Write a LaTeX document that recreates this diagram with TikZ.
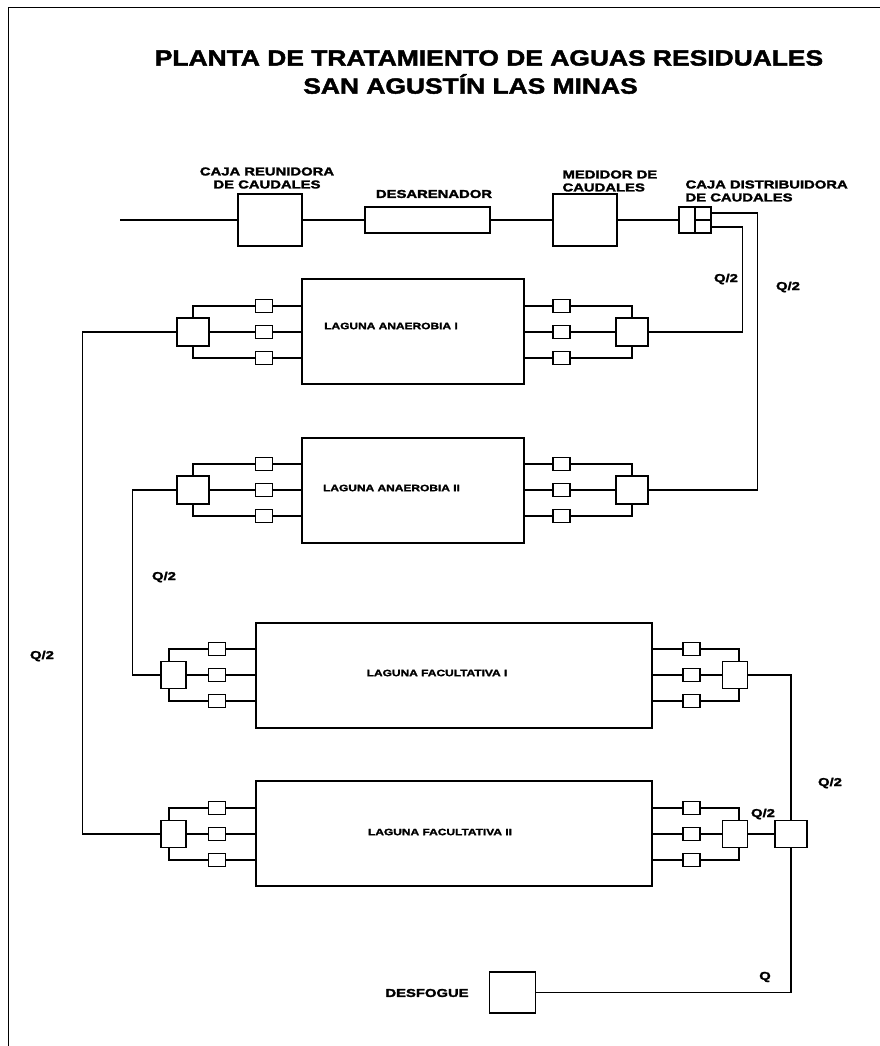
\documentclass[tikz,border=0pt]{standalone}
\usepackage{fontspec}
\setmainfont{Liberation Sans}
\newfontfamily\heavyfont[FakeStretch=1.3,BoldFeatures={FakeBold=2.2}]{Liberation Sans}
\newfontfamily\titlefont[FakeStretch=1.2,BoldFeatures={FakeBold=2}]{Liberation Sans}
\tikzset{
  unit/.style={draw, line width=1.1pt, inner sep=0pt, fill=white},
  caja/.style={unit, minimum width=64pt, minimum height=52pt},
  desbox/.style={unit, minimum width=125pt, minimum height=26pt},
  distbox/.style={unit, minimum width=32pt, minimum height=26pt},
  lagA/.style={unit, minimum width=222pt, minimum height=105pt},
  lagF/.style={unit, minimum width=396pt, minimum height=105pt},
  valve/.style={unit, minimum width=17pt, minimum height=13pt},
  maniA/.style={unit, minimum width=32pt, minimum height=28pt},
  maniF/.style={unit, minimum width=25pt, minimum height=27pt},
  desbig/.style={unit, minimum width=46pt, minimum height=41pt},
  lbl/.style={font=\heavyfont\bfseries\fontsize{11.4}{13}\selectfont, inner sep=0pt},
  lagtxt/.style={font=\heavyfont\bfseries\fontsize{9.2}{11}\selectfont, inner sep=0pt},
  ttl/.style={font=\titlefont\bfseries\fontsize{22}{26}\selectfont, inner sep=0pt}
}
\begin{document}
\begin{tikzpicture}[x=1pt,y=-1pt,line width=1.1pt]
\useasboundingbox (0,0) rectangle (880,1046);
\draw[line width=1pt] (8,1046) -- (8,8) -- (880,8);

\node[ttl] (t1) at (489,58) {PLANTA DE TRATAMIENTO DE AGUAS RESIDUALES};
\node[ttl] (t2) at (470.5,84) {SAN AGUSTÍN LAS MINAS};

\coordinate (in) at (120,220);
\node[caja] (cr) at (270,220) {};
\node[desbox] (des) at (427.5,220) {};
\node[caja] (med) at (585,220) {};
\node[distbox] (dist) at (695,220) {};
\draw (dist.north) -- (dist.south);
\draw (dist.center) -- (dist.east);
\draw (in) -- (cr.west);
\draw (cr.east) -- (des.west);
\draw (des.east) -- (med.west);
\draw (med.east) -- (dist.west);
\node[lbl, align=center] (crt) at (267,178) {CAJA REUNIDORA\\DE CAUDALES};
\node[lbl] (dest) at (434,194) {DESARENADOR};
\node[lbl, align=left, anchor=west] (medt) at (562,181) {MEDIDOR DE\\CAUDALES};
\node[lbl, align=left, anchor=west] (distt) at (685,191) {CAJA DISTRIBUIDORA\\DE CAUDALES};

\node[lagA] (ai) at (413,331.5) {};
\node[lagA] (aii) at (413,490.5) {};
\node[lagF] (fi) at (454,675.5) {};
\node[lagF] (fii) at (454,833.5) {};
\node[lagtxt] (ait) at (391,326) {LAGUNA ANAEROBIA I};
\node[lagtxt] (aiit) at (391.5,488) {LAGUNA ANAEROBIA II};
\node[lagtxt] (fit) at (437,673) {LAGUNA FACULTATIVA I};
\node[lagtxt] (fiit) at (440,832) {LAGUNA FACULTATIVA II};

\foreach \n/\y in {ai/332, aii/490} {
  \node[maniA] (\n lm) at (193,\y) {};
  \node[maniA] (\n rm) at (632,\y) {};
  \foreach \k/\d in {a/-26, b/0, c/26} {
    \node[valve] (\n l\k) at (264,\y+\d) {};
    \node[valve] (\n r\k) at (561.5,\y+\d) {};
    \draw (\n l\k.east) -- (\n l\k.east -| \n.west);
    \draw (\n r\k.west) -- (\n r\k.west -| \n.east);
  }
  \draw (\n la.west) -| (\n lm.north);
  \draw (\n lc.west) -| (\n lm.south);
  \draw (\n lm.east) -- (\n lb.west);
  \draw (\n ra.east) -| (\n rm.north);
  \draw (\n rc.east) -| (\n rm.south);
  \draw (\n rb.east) -- (\n rm.west);
}

\foreach \n/\y in {fi/675, fii/834} {
  \node[maniF] (\n lm) at (173.5,\y) {};
  \node[maniF] (\n rm) at (735,\y) {};
  \foreach \k/\d in {a/-26, b/0, c/26} {
    \node[valve] (\n l\k) at (217,\y+\d) {};
    \node[valve] (\n r\k) at (691.5,\y+\d) {};
    \draw (\n l\k.east) -- (\n l\k.east -| \n.west);
    \draw (\n r\k.west) -- (\n r\k.west -| \n.east);
  }
  \draw (\n la.west) -| ([xshift=-4.5pt]\n lm.north);
  \draw (\n lc.west) -| ([xshift=-4.5pt]\n lm.south);
  \draw (\n lm.east) -- (\n lb.west);
  \draw (\n ra.east) -| ([xshift=4pt]\n rm.north);
  \draw (\n rc.east) -| ([xshift=4pt]\n rm.south);
  \draw (\n rb.east) -- (\n rm.west);
}

\node[distbox, minimum height=27pt] (col) at (791,834) {};
\node[desbig] (desf) at (512.5,992.5) {};
\node[lbl] (desft) at (427,993) {DESFOGUE};

\draw ([yshift=7pt]dist.east) -- ++(46,0) |- (aiirm.east);
\draw ([yshift=-7pt]dist.east) -- ++(31,0) |- (airm.east);
\draw (ailm.west) -- ++(-94,0) |- (fiilm.west);
\draw (aiilm.west) -- ++(-44,0) |- (film.west);
\draw (firm.east) -| (col.north);
\draw (fiirm.east) -- (col.west);
\draw (col.south) |- (desf.east);

\node[lbl] (q1) at (726,279) {Q/2};
\node[lbl] (q2) at (788,287) {Q/2};
\node[lbl] (q3) at (42,656) {Q/2};
\node[lbl] (q4) at (164,577) {Q/2};
\node[lbl] (q5) at (830,783) {Q/2};
\node[lbl] (q6) at (763,814) {Q/2};
\node[lbl] (q7) at (765,977) {Q};
\end{tikzpicture}
\end{document}
